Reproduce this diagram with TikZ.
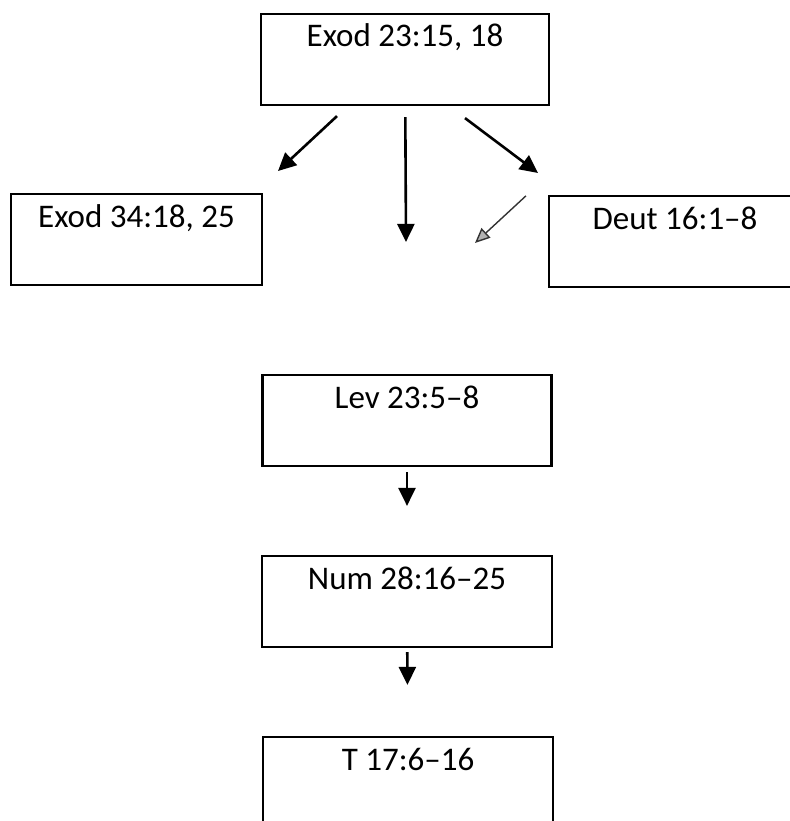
\documentclass[tikz,border=0pt]{standalone}
\usepackage{fontspec}
\setmainfont{Carlito}
\usepackage{tikz}
\usetikzlibrary{arrows.meta,calc}

\tikzset{
	box/.style = {draw, line width=2.2pt, inner sep=0pt, text height=33pt, text depth=58pt, anchor=base, font=\fontsize{33}{40}\selectfont},
	arr/.style = {line width=2.6pt, -{Triangle[width=17pt,length=18pt]}},
	faint/.style = {line width=1.4pt, black!80, -{Triangle[width=13pt,length=15pt,fill=gray!60]}}
}

\begin{document}
\begin{tikzpicture}[x=1pt, y=-1pt]
	\useasboundingbox (0, 0) rectangle (789, 821);

	\node [box, minimum width=288pt] (exa) at (405, 47) {Exod 23:15, 18};
	\node [box, minimum width=251pt] (exb) at (136.5, 227) {Exod 34:18, 25};
	\node [box, minimum width=252pt] (deut) at (675, 229) {Deut 16:1–8};
	\node [box, minimum width=289pt] (lev) at (407, 408) {Lev 23:5–8};
	\node [box, minimum width=290pt] (num) at (407, 589) {Num 28:16–25};
	\node [box, minimum width=290pt] (tem) at (408, 770) {T 17:6–16};

	\coordinate (exbend) at (278, 171);
	\coordinate (deutend) at (538, 173);
	\coordinate (backend) at (475, 243);

	\draw [arr] ([xshift=-68pt, yshift=-10pt]exa.south) -- (exbend);
	\draw [arr, shorten <=11pt, shorten >=132pt] (exa) -- (lev);
	\draw [arr] ([xshift=60pt, yshift=-12pt]exa.south) -- (deutend);
	\draw [faint] ([xshift=-22pt, yshift=-1pt]deut.north west) -- (backend);
	\draw [arr, shorten <=5pt, shorten >=49pt] (lev) -- (num);
	\draw [arr, shorten <=4pt, shorten >=51pt] (num) -- (tem);
\end{tikzpicture}
\end{document}
